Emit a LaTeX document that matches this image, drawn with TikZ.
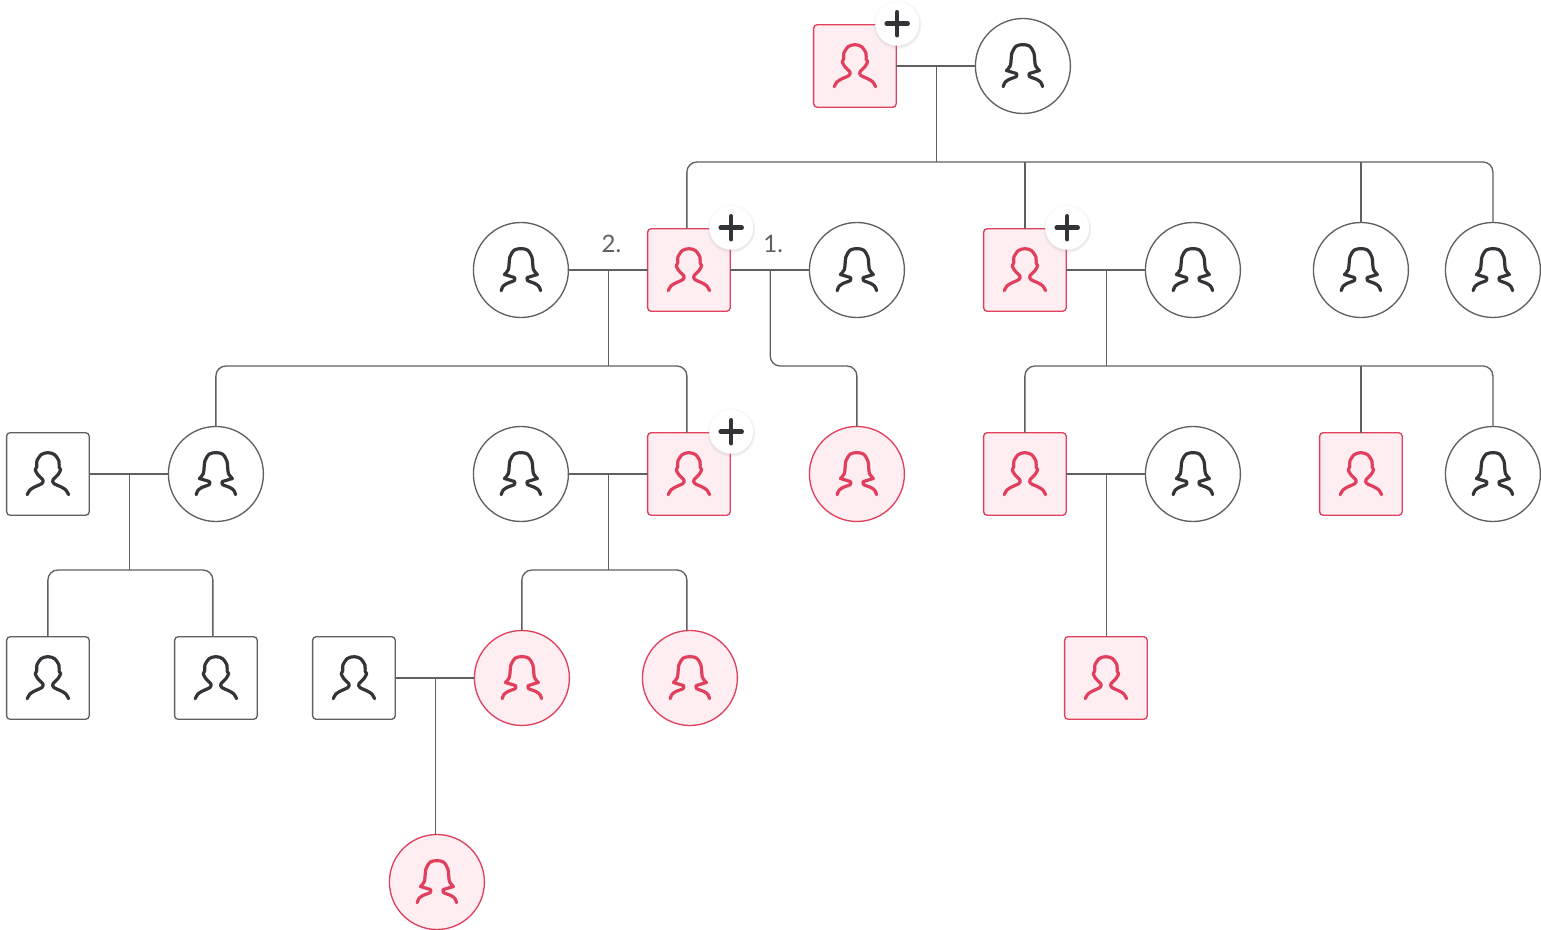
\documentclass[tikz,border=0pt]{standalone}
\usepackage{fontspec}
\setmainfont{Lato}
\usetikzlibrary{calc,positioning,shadows}
\definecolor{famline}{RGB}{96,96,96}
\definecolor{famdark}{RGB}{50,52,56}
\definecolor{famred}{RGB}{224,64,94}
\definecolor{famblush}{RGB}{254,238,241}

\tikzset{
  man/.pic={
    \draw[pic actions] plot[smooth, tension=.5] coordinates {(-20.7,20.7) (-18,16) (-13.3,13) (-6,9.5) (-5,6) (-10,.7) (-12.7,-4.3) (-11.2,-7) (-11,-13) (-6.5,-19.5) (0,-21.3) (6.5,-19.5) (11,-13) (11.2,-7) (12.7,-4.3) (10,.7) (5,6) (6,9.5) (13.3,13) (18,16) (20.7,20.7)};
  },
  woman/.pic={
    \draw[pic actions] plot[smooth, tension=.5] coordinates {(-19.7,20.7) (-18,16.5) (-14,13.5) (-6.5,10.5) (-6.5,7.5)} -- (-16.5,4.5);
    \draw[pic actions] plot[smooth, tension=.5] coordinates {(-16.5,4.5) (-12.5,-.5) (-11,-13) (-6.5,-20) (0,-21.3) (6.5,-20) (11,-13) (12.5,-.5) (16.5,4.5)};
    \draw[pic actions] plot[smooth, tension=.5] coordinates {(19.7,20.7) (18,16.5) (14,13.5) (6.5,10.5) (6.5,7.5)} -- (16.5,4.5);
  },
  plussign/.pic={
    \draw[pic actions] (-10.5,0) -- (10.5,0) (0,-11.5) -- (0,11.5);
  }
}

\begin{document}
\begin{tikzpicture}[
    x=0.75pt, y=-0.75pt,
    on grid,
    node distance=153pt and 126pt,
    person/.style={inner sep=0pt, outer sep=0pt, line width=1pt},
    male/.style={person, rectangle, rounded corners=2.6pt, minimum size=61.9pt, draw=famline, fill=white},
    female/.style={person, circle, minimum size=71.25pt, draw=famline, fill=white},
    kinmale/.style={male, draw=famred, fill=famblush},
    kinfemale/.style={female, draw=famred, fill=famblush},
    badge/.style={circle, minimum size=33pt, inner sep=0pt, fill=white, circular drop shadow={shadow xshift=0pt, shadow yshift=-.6pt, shadow scale=1.12, opacity=.2}},
    link/.style={draw=famline, line width=1pt, rounded corners=7.5pt},
    couple/.style={link, yshift=-.5pt},
    darkicon/.style={draw=famdark, line width=2.4pt, line cap=round, line join=round},
    redicon/.style={draw=famred, line width=2.4pt, line cap=round, line join=round},
    plusicon/.style={draw=famdark, line width=3.4pt, line cap=round},
    numlabel/.style={text=famline, font=\fontsize{18}{20}\selectfont, inner sep=0pt}
  ]
  \useasboundingbox (0,0) rectangle (1541,930);

  \node[kinmale] (founder) at (854.9,66) {};
  \node[female, right=of founder] (foundress) {};

  \node[kinmale, below right=153pt and 1.5pt of foundress] (sontwo) {};
  \node[female, left=of sontwo] (wifeone) {};
  \node[kinmale, left=of wifeone] (sonone) {};
  \node[female, left=of sonone] (wifetwo) {};
  \node[female, right=of sontwo] (wifethree) {};
  \node[female, right=of wifethree] (daughterone) {};
  \node[female, right=99pt of daughterone] (daughtertwo) {};

  \node[female, below=of wifetwo] (inlawone) {};
  \node[kinmale, below=of sonone] (grandson) {};
  \node[kinfemale, below=of wifeone] (granddaughter) {};
  \node[female, left=228.75pt of inlawone] (grandleft) {};
  \node[male, left=of grandleft] (husbandleft) {};
  \node[kinmale, below=of sontwo] (grandtwo) {};
  \node[female, below=of wifethree] (inlawtwo) {};
  \node[kinmale, below=of daughterone] (grandthree) {};
  \node[female, below=of daughtertwo] (grandfour) {};

  \node[male, below=of husbandleft] (childleft) {};
  \node[male, below=of grandleft] (childright) {};
  \node[kinfemale, below right=153pt and .75pt of inlawone] (greatone) {};
  \node[kinfemale, below right=153pt and .75pt of grandson] (greattwo) {};
  \node[male, left=of greatone] (husbandmid) {};
  \node[kinmale, below right=153pt and 60.75pt of grandtwo] (greatthree) {};

  \node[kinfemale, below right=153pt and 62.25pt of husbandmid] (lastchild) {};

  \coordinate (jfounder) at ($(founder.east)!.5!(foundress.west)+(1,0)$);
  \coordinate (jtwo) at ($(wifetwo.east)!.5!(sonone.west)+(.4,0)$);
  \coordinate (jone) at ($(sonone.east)!.5!(wifeone.west)+(.4,0)$);
  \coordinate (jthree) at ($(sontwo.east)!.5!(wifethree.west)+(.4,0)$);
  \coordinate (jleft) at ($(husbandleft.east)!.5!(grandleft.west)+(1,0)$);
  \coordinate (jgrand) at ($(inlawone.east)!.5!(grandson.west)+(.4,0)$);
  \coordinate (jgrandtwo) at ($(grandtwo.east)!.5!(inlawtwo.west)+(.4,0)$);
  \coordinate (jmid) at ($(husbandmid.east)!.5!(greatone.west)+(1,0)$);

  \draw[couple] (founder) -- (foundress);
  \draw[link] (jfounder) -- ++(0,96) coordinate (busfounder);
  \draw[link] ([xshift=-1.5pt]sonone.north) |- (busfounder) -| (daughtertwo.north);
  \draw[link] (sontwo.north) -- (sontwo.north |- busfounder);
  \draw[link] (daughterone.north) -- (daughterone.north |- busfounder);

  \draw[couple] (wifetwo) -- (sonone);
  \draw[couple] (sonone) -- (wifeone);
  \draw[link] (jtwo) -- ++(0,96) coordinate (bustwo);
  \draw[link] (grandleft.north) |- (bustwo) -| ([xshift=-1.5pt]grandson.north);
  \draw[link] (jone) -- ++(0,96) -| (granddaughter.north);

  \draw[couple] (sontwo) -- (wifethree);
  \draw[link] (jthree) -- ++(0,96) coordinate (busthree);
  \draw[link] (grandtwo.north) |- (busthree) -| (grandfour.north);
  \draw[link] (grandthree.north) -- (grandthree.north |- busthree);

  \draw[couple] (husbandleft) -- (grandleft);
  \draw[link] (jleft) -- ++(0,96) coordinate (busleft);
  \draw[link] (childleft.north) |- (busleft) -| ([xshift=-2.25pt]childright.north);

  \draw[couple] (inlawone) -- (grandson);
  \draw[link] (jgrand) -- ++(0,96) coordinate (busgrand);
  \draw[link] (greatone.north) |- (busgrand) -| ([xshift=-2.25pt]greattwo.north);

  \draw[couple] (grandtwo) -- (inlawtwo);
  \draw[link] (jgrandtwo) -- (jgrandtwo |- greatthree.north);

  \draw[couple] (husbandmid) -- (greatone);
  \draw[link] (jmid) -- (jmid |- lastchild.north);

  \foreach \who in {husbandleft,childleft,childright,husbandmid}
    \pic[darkicon] at (\who) {man};
  \foreach \who in {founder,sonone,sontwo,grandson,grandtwo,grandthree,greatthree}
    \pic[redicon] at (\who) {man};
  \foreach \who in {foundress,wifeone,wifetwo,wifethree,daughterone,daughtertwo,inlawone,grandleft,inlawtwo,grandfour}
    \pic[darkicon] at (\who) {woman};
  \foreach \who in {granddaughter,greatone,greattwo,lastchild}
    \pic[redicon] at (\who) {woman};

  \node[badge] (badgefounder) at ([xshift=.75pt,yshift=.75pt]founder.north east) {};
  \node[badge] (badgeone) at ([xshift=.75pt,yshift=.75pt]sonone.north east) {};
  \node[badge] (badgetwo) at ([xshift=.75pt,yshift=.75pt]sontwo.north east) {};
  \node[badge] (badgegrand) at ([xshift=.75pt,yshift=.75pt]grandson.north east) {};
  \foreach \who in {badgefounder,badgeone,badgetwo,badgegrand}
    \pic[plusicon] at (\who) {plussign};

  \node[numlabel] (labeltwo) at ($(jtwo)+(3,-26)$) {2.};
  \node[numlabel] (labelone) at ($(jone)+(3,-26)$) {1.};
\end{tikzpicture}
\end{document}
